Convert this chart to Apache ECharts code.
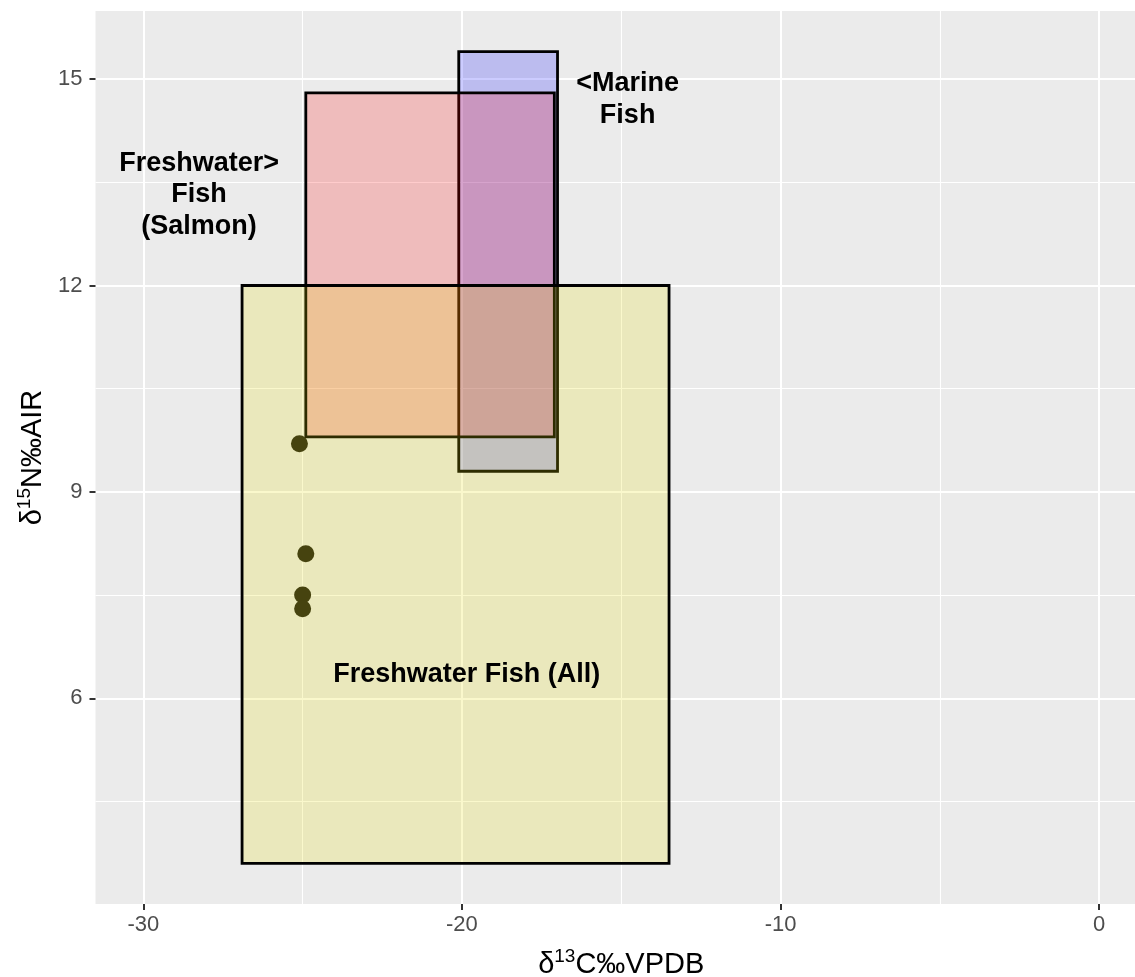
<!DOCTYPE html>
<html>
<head>
<meta charset="utf-8">
<script src="https://cdn.jsdelivr.net/npm/echarts@6/dist/echarts.min.js"></script>
<style>
  html, body { margin: 0; padding: 0; background: #ffffff; overflow: hidden; }
  #chart { width: 1135px; height: 977px; }
</style>
</head>
<body>
<div id="chart"></div>
<script>
// Isotope ranges of the food sources (δ13C and δ15N, ‰)
const sourceNames = ['Marine Fish', 'Freshwater Fish (Salmon)', 'Freshwater Fish (All)'];
const sourceC13Min = [-20.1, -24.9, -26.9];
const sourceC13Max = [-17.0, -17.1, -13.5];
const sourceN15Min = [9.3, 9.8, 3.6];
const sourceN15Max = [15.4, 14.8, 12.0];

// Measured samples
const sampleC13 = [-25.1, -24.9, -25.0, -25.0];
const sampleN15 = [9.7, 8.1, 7.5, 7.3];

// Annotation texts and where they sit on the data scale
const noteText = ['<Marine\nFish', 'Freshwater>\nFish\n(Salmon)', 'Freshwater Fish (All)'];
const noteC13 = [-14.8, -28.25, -19.85];
const noteN15 = [14.7, 13.32, 6.35];

// Axis ticks
const xTicks = [-30, -20, -10, 0];
const yTicks = [6, 9, 12, 15];

// Styling
const sourceFill = ['rgba(0,0,255,0.2)', 'rgba(255,0,0,0.2)', 'rgba(230,222,0,0.2)'];
const FONT = '"Liberation Sans", Arial, Helvetica, sans-serif';

const chart = echarts.init(document.getElementById('chart'), null, { renderer: 'canvas' });

const rectData = sourceNames.map((n, i) => ({
  name: n,
  value: [sourceC13Min[i], sourceC13Max[i], sourceN15Min[i], sourceN15Max[i]]
}));
const pointData = sampleC13.map((x, i) => [x, sampleN15[i]]);
const noteData = noteText.map((t, i) => ({ name: t, value: [noteC13[i], noteN15[i]] }));

const titleRich = {
  g: { fontSize: 29, fontFamily: FONT, color: '#000' },
  t: { fontSize: 29, fontFamily: FONT, color: '#000' },
  sup: { fontSize: 19, fontFamily: FONT, color: '#000', padding: [0, 0, 16, 0] }
};

const option = {
  animation: false,
  backgroundColor: '#ffffff',
  grid: {
    left: 95.5, right: -12, top: 11, bottom: 73,
    outerBoundsMode: 'none',
    containLabel: false,
    show: true, backgroundColor: '#EBEBEB', borderWidth: 0
  },
  xAxis: {
    type: 'value',
    min: -31.5, max: 1.5,
    splitNumber: 3, minInterval: 10, maxInterval: 10,
    axisLine: { show: false, onZero: false },
    axisTick: { show: true, length: 6, lineStyle: { color: '#333333', width: 2 }, customValues: xTicks },
    axisLabel: { customValues: xTicks, color: '#4D4D4D', fontSize: 22, fontFamily: FONT, margin: 10 },
    splitLine: { show: true, lineStyle: { color: '#FFFFFF', width: 2 } },
    minorTick: { show: false, splitNumber: 2 },
    minorSplitLine: { show: true, lineStyle: { color: '#FFFFFF', width: 1.1 } },
    name: '{g|δ}{sup|13}{t|C‰VPDB}',
    nameLocation: 'middle',
    nameGap: 43,
    nameTextStyle: { rich: titleRich }
  },
  yAxis: {
    type: 'value',
    min: 3.01, max: 15.99,
    splitNumber: 4, minInterval: 3, maxInterval: 3,
    axisLine: { show: false, onZero: false },
    axisTick: { show: true, length: 6, lineStyle: { color: '#333333', width: 2 }, customValues: yTicks },
    axisLabel: { customValues: yTicks, color: '#4D4D4D', fontSize: 22, fontFamily: FONT, margin: 13 },
    splitLine: { show: true, lineStyle: { color: '#FFFFFF', width: 2 } },
    minorTick: { show: false, splitNumber: 2 },
    minorSplitLine: { show: true, lineStyle: { color: '#FFFFFF', width: 1.1 } },
    name: '{g|δ}{sup|15}{t|N‰AIR}',
    nameLocation: 'middle',
    nameGap: 38,
    nameTextStyle: { rich: titleRich }
  },
  series: [
    {
      // Source ranges drawn as boxes, one per food group
      type: 'custom',
      name: 'sources',
      clip: true,
      encode: { x: [0, 1], y: [2, 3] },
      data: rectData,
      z: 2,
      renderItem: function (params, api) {
        const p0 = api.coord([api.value(0), api.value(3)]);
        const p1 = api.coord([api.value(1), api.value(2)]);
        return {
          type: 'rect',
          shape: { x: p0[0], y: p0[1], width: p1[0] - p0[0], height: p1[1] - p0[1] },
          style: { fill: sourceFill[params.dataIndex], stroke: '#000000', lineWidth: 2.8 }
        };
      }
    },
    {
      type: 'scatter',
      name: 'samples',
      data: pointData,
      symbol: 'circle',
      symbolSize: 17,
      z: 3,
      itemStyle: { color: '#46430F', opacity: 1 }
    },
    {
      type: 'custom',
      name: 'notes',
      data: noteData,
      encode: { x: 0, y: 1 },
      z: 4,
      renderItem: function (params, api) {
        const p = api.coord([api.value(0), api.value(1)]);
        return {
          type: 'text',
          x: p[0], y: p[1],
          style: {
            text: noteText[params.dataIndex],
            x: 0, y: 0,
            align: 'center', verticalAlign: 'middle',
            fontSize: 27, fontWeight: 'bold', fontFamily: FONT,
            lineHeight: 31.5,
            fill: '#000000'
          }
        };
      }
    }
  ]
};

chart.setOption(option);
</script>
</body>
</html>
